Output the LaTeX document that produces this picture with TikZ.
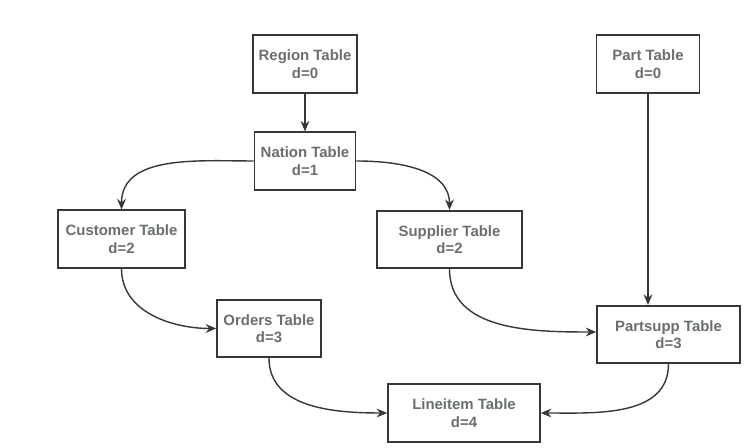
\documentclass[tikz,border=0pt]{standalone}
\usepackage{fontspec}
\setmainfont{Liberation Sans}
\usepackage{tikz}
\usetikzlibrary{arrows.meta,positioning,calc}
\definecolor{tabletext}{RGB}{105,110,110}
\definecolor{edgegray}{RGB}{55,55,55}

\begin{document}
\begin{tikzpicture}[
    tbl/.style={draw=edgegray, line width=0.9pt, minimum height=1.15cm, align=center,
                text=tabletext, font=\fontsize{8.5}{10}\selectfont\bfseries},
    link/.style={->, line width=0.8pt, draw=edgegray},
    >={Stealth[length=6pt,width=5pt,inset=2pt]}
]
\useasboundingbox (0,0) rectangle (14.94,8.96);

% --- tables ---
\node[tbl, minimum width=2.02cm] (region) at (6.10, 7.68) {Region Table\\d=0};
\node[tbl, minimum width=2.06cm] (part) at (12.96, 7.68) {Part Table\\d=0};
\node[tbl, minimum width=2.02cm] (nation) at (6.10, 5.74) {Nation Table\\d=1};
\node[tbl, minimum width=2.54cm] (customer) at (2.43, 4.18) {Customer Table\\d=2};
\node[tbl, minimum width=2.90cm] (supplier) at (8.99, 4.17) {Supplier Table\\d=2};
\node[tbl, minimum width=2.08cm] (orders) at (5.38, 2.39) {Orders Table\\d=3};
\node[tbl, minimum width=2.86cm] (partsupp) at (13.37, 2.27) {Partsupp Table\\d=3};
\node[tbl, minimum width=3.04cm] (lineitem) at (9.28, 0.70) {Lineitem Table\\d=4};

% --- links ---
\draw[link] (region) -- (nation);
\draw[link] (nation.west) to[out=180, in=90] (customer.north);
\draw[link] (nation.east) to[out=0, in=90] (supplier.north);
\draw[link] (part.south) -- (part.south |- partsupp.north);
\draw[link] (customer.south) to[out=-90, in=180] (orders.west);
\draw[link] (supplier.south) to[out=-90, in=180] ([yshift=0.05cm]partsupp.west);
\draw[link] (orders.south) to[out=-90, in=180] (lineitem.west);
\draw[link] (partsupp.south) to[out=-90, in=0] (lineitem.east);

\end{tikzpicture}
\end{document}
